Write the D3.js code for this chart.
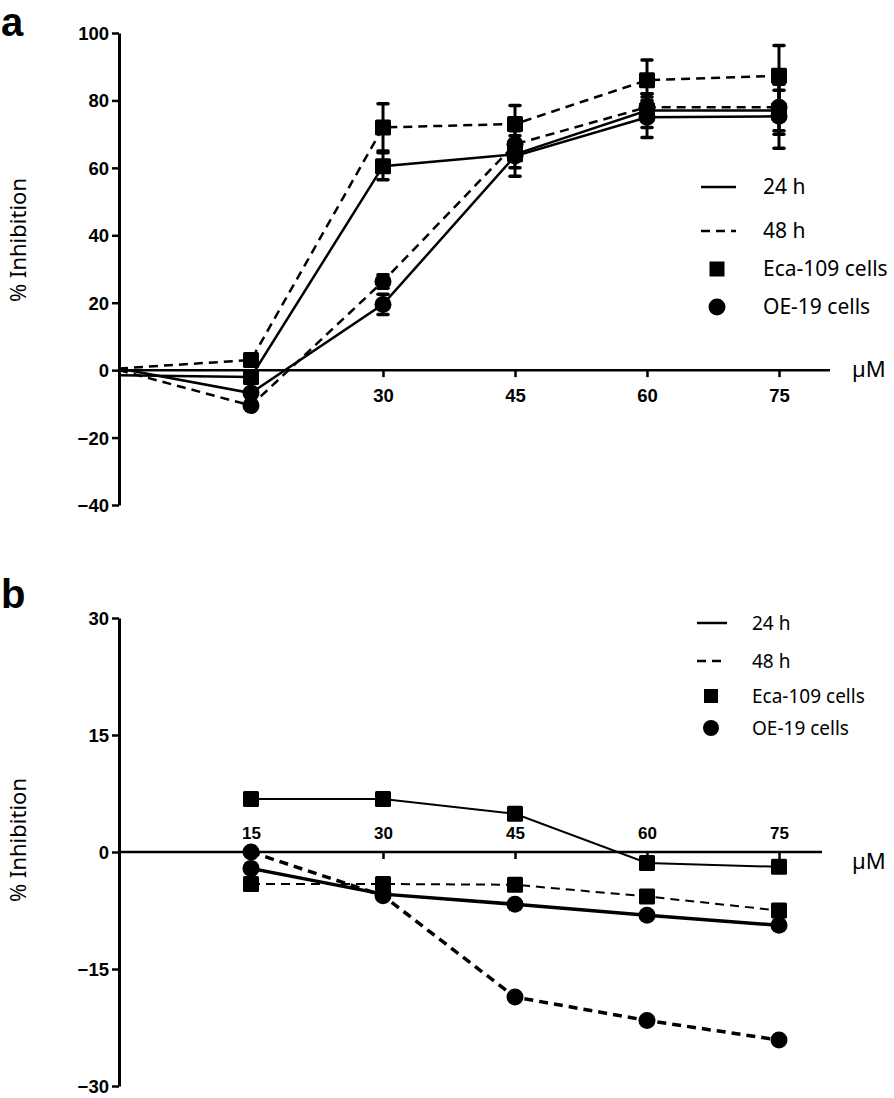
<!DOCTYPE html>
<html><head><meta charset="utf-8">
<script src="https://cdn.jsdelivr.net/npm/d3@7"></script>
<style>body{margin:0;background:#fff}svg{display:block}</style>
</head><body>
<svg id="c" width="894" height="1098"></svg>
<script>
// ---------- data ----------
const dosesA = [0, 15, 30, 45, 60, 75];
const aEca24 = [-1.5, -2, 60.5, 64, 77, 77];
const aEca48 = [0.5, 3, 72, 73, 86, 87.3];
const aOE24  = [0.5, -6.8, 19.5, 63.5, 75, 75.3];
const aOE48  = [0, -10.5, 26.3, 67, 78, 78];
const sdEca24 = [0.5, 1, 4, 4, 5, 6];
const sdEca48 = [0.5, 1, 7, 5.5, 6, 9];
const sdOE24  = [0.5, 1, 3, 6, 6, 9.5];
const sdOE48  = [0.5, 1, 2, 4, 4, 8];
const ticksAx = [15, 30, 45, 60, 75];
const ticksAxLabels = ["", "30", "45", "60", "75"];
const ticksAy = [100, 80, 60, 40, 20, 0, -20, -40];

const dosesB = [15, 30, 45, 60, 75];
const bEca24 = [6.8, 6.8, 4.9, -1.4, -1.9];
const bEca48 = [-4.1, -4.1, -4.2, -5.7, -7.5];
const bOE24  = [-2.1, -5.4, -6.7, -8.1, -9.4];
const bOE48  = [0, -5.6, -18.6, -21.6, -24.1];
const ticksBx = [15, 30, 45, 60, 75];
const ticksBy = [30, 15, 0, -15, -30];

const legendLabels = ["24 h", "48 h", "Eca-109 cells", "OE-19 cells"];

// ---------- drawing ----------
const svg = d3.select("#c");
const tickFont = "'Liberation Sans', Arial, sans-serif";
const textFont = "'Noto Sans', 'Open Sans', sans-serif";
const DASH = "9,6";

function panel(o) {
  const g = svg.append("g");
  const x = d3.scaleLinear().domain([0, 80]).range([119, 823]);
  const y = d3.scaleLinear().domain(o.yDomain).range(o.yRange);

  // y axis
  const ya = g.append("g").attr("transform", `translate(119,0)`)
    .call(d3.axisLeft(y).tickValues(o.yTicks).tickSize(7).tickSizeOuter(0).tickFormat(d3.format("d")));
  ya.select(".domain").attr("stroke", "#000").attr("stroke-width", 3);
  ya.selectAll(".tick line").attr("stroke", "#000").attr("stroke-width", 2.5);
  ya.selectAll(".tick text").attr("font-family", tickFont).attr("font-weight", "bold")
    .attr("font-size", 18.5).attr("fill", "#000").attr("x", -10).attr("dy", "0.35em");

  // x axis at y=0
  const xa = g.append("g").attr("transform", `translate(0,${y(0)})`)
    .call(d3.axisBottom(x).tickValues(o.xTicks).tickSize(7).tickSizeOuter(0)
      .tickFormat((d, i) => o.xLabels[i]));
  xa.select(".domain").remove();
  xa.selectAll(".tick line").attr("stroke", "#000").attr("stroke-width", 2.5);
  xa.selectAll(".tick text").attr("font-family", tickFont).attr("font-weight", "bold")
    .attr("font-size", o.xFont).attr("fill", "#000").attr("y", o.xLabelY).attr("dy", "0.35em");
  g.append("line").attr("x1", 119).attr("x2", o.xEnd).attr("y1", y(0)).attr("y2", y(0))
    .attr("stroke", "#000").attr("stroke-width", 2.5);

  // µM
  g.append("text").attr("x", 852).attr("y", y(0) + o.umDy).attr("font-family", textFont)
    .attr("font-size", 22).attr("dy", "0.35em").text("µM");

  // y label
  g.append("text").attr("transform", `translate(26,${o.yLabelY}) rotate(-90)`)
    .attr("text-anchor", "middle").attr("font-family", textFont).attr("font-size", 22)
    .text("% Inhibition");

  // panel letter
  g.append("text").attr("x", 1).attr("y", o.letterY).attr("font-family", tickFont)
    .attr("font-weight", "bold").attr("font-size", 40).text(o.letter);

  const line = d3.line().x(d => x(d[0])).y(d => y(d[1]));
  o.series.forEach(s => {
    const pts = s.xs.map((d, i) => [d, s.v[i]]);
    g.append("path").datum(pts).attr("d", line).attr("fill", "none").attr("stroke", "#000")
      .attr("stroke-width", s.w).attr("stroke-dasharray", s.dash ? DASH : null);
  });
  o.series.forEach(s => {
    s.xs.forEach((d, i) => {
      if (d === 0) return;
      const cx = x(d), cy = y(s.v[i]);
      if (s.sd) {
        const lo = y(s.v[i] - s.sd[i]), hi = y(s.v[i] + s.sd[i]);
        g.append("line").attr("x1", cx).attr("x2", cx).attr("y1", lo).attr("y2", hi)
          .attr("stroke", "#000").attr("stroke-width", 3);
        [lo, hi].forEach(yy => g.append("line").attr("x1", cx - 5).attr("x2", cx + 5)
          .attr("y1", yy).attr("y2", yy).attr("stroke", "#000").attr("stroke-width", 3.5)
          .attr("stroke-linecap", "round"));
      }
      if (s.shape === "sq") {
        g.append("rect").attr("x", cx - 8).attr("y", cy - 8).attr("width", 16).attr("height", 16)
          .attr("rx", 1.5).attr("fill", "#000");
      } else {
        g.append("circle").attr("cx", cx).attr("cy", cy).attr("r", 8.5).attr("fill", "#000");
      }
    });
  });

  // legend
  const L = o.legend;
  const lg = g.append("g").attr("font-family", textFont).attr("font-size", L.fs).attr("fill", "#000");
  legendLabels.forEach((t, i) => {
    const yy = L.ys[i];
    if (i === 0) lg.append("line").attr("x1", L.lx1).attr("x2", L.lx2).attr("y1", yy).attr("y2", yy)
      .attr("stroke", "#000").attr("stroke-width", 2.5);
    if (i === 1) lg.append("line").attr("x1", L.lx1).attr("x2", L.lx2).attr("y1", yy).attr("y2", yy)
      .attr("stroke", "#000").attr("stroke-width", 2.5).attr("stroke-dasharray", "9,6");
    if (i === 2) lg.append("rect").attr("x", L.sx - L.ms / 2).attr("y", yy - L.ms / 2)
      .attr("width", L.ms).attr("height", L.ms).attr("fill", "#000");
    if (i === 3) lg.append("circle").attr("cx", L.sx).attr("cy", yy).attr("r", L.ms / 2 + 1).attr("fill", "#000");
    lg.append("text").attr("x", L.tx).attr("y", yy).attr("dy", "0.35em").text(t);
  });
}

panel({
  letter: "a", letterY: 36,
  yDomain: [-40, 100], yRange: [505, 33], yTicks: ticksAy,
  xTicks: ticksAx, xLabels: ticksAxLabels, xFont: 18.5, xLabelY: 25, xEnd: 830,
  umDy: -1, yLabelY: 240,
  series: [
    {xs: dosesA, v: aEca48, sd: sdEca48, dash: true, shape: "sq", w: 2.5},
    {xs: dosesA, v: aEca24, sd: sdEca24, dash: false, shape: "sq", w: 2.5},
    {xs: dosesA, v: aOE48, sd: sdOE48, dash: true, shape: "ci", w: 2.5},
    {xs: dosesA, v: aOE24, sd: sdOE24, dash: false, shape: "ci", w: 2.5}
  ],
  legend: {fs: 21, ys: [187, 231, 269, 307], lx1: 701, lx2: 736, sx: 717, tx: 763, ms: 15}
});

panel({
  letter: "b", letterY: 608,
  yDomain: [-30, 30], yRange: [1086, 618], yTicks: ticksBy,
  xTicks: ticksBx, xLabels: ticksBx.map(String), xFont: 17, xLabelY: -19, xEnd: 822,
  umDy: 9, yLabelY: 840,
  series: [
    {xs: dosesB, v: bEca24, dash: false, shape: "sq", w: 2},
    {xs: dosesB, v: bEca48, dash: true, shape: "sq", w: 2},
    {xs: dosesB, v: bOE24, dash: false, shape: "ci", w: 3.5},
    {xs: dosesB, v: bOE48, dash: true, shape: "ci", w: 3.5}
  ],
  legend: {fs: 19, ys: [623, 661, 696, 728], lx1: 697, lx2: 727, sx: 711, tx: 752, ms: 14}
});
</script>
</body></html>
